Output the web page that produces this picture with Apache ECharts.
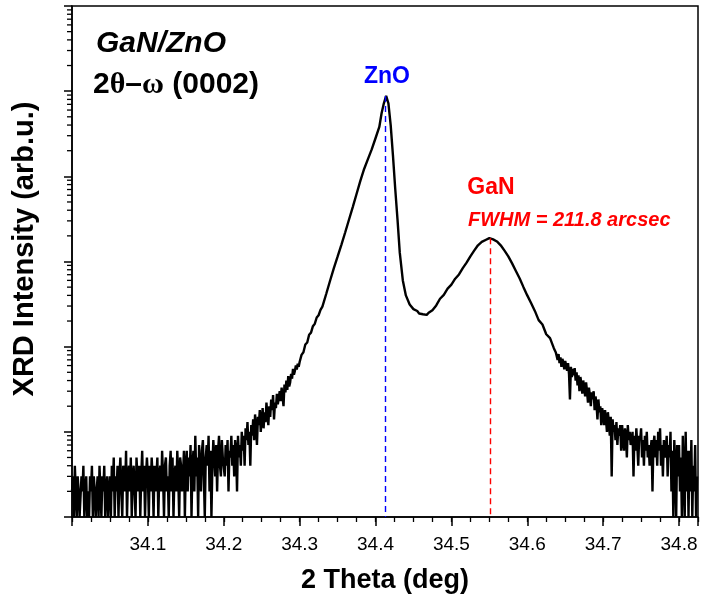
<!DOCTYPE html>
<html><head><meta charset="utf-8">
<script src="https://cdn.jsdelivr.net/npm/echarts@6/dist/echarts.min.js"></script>
<style>html,body{margin:0;padding:0;background:#fff}#c{width:702px;height:605px}</style>
</head><body><div id="c"></div>
<script>
// ---- data ----
const xTickLabels = ['34.1','34.2','34.3','34.4','34.5','34.6','34.7','34.8'];
const xMin = 34.0, xMax = 34.825;
const znoPeak = 34.413, znoPeakCounts = 88000;
const ganPeak = 34.551, ganPeakCounts = 1880;

const bgLeftAngles = [
34.00000,34.00125,34.00250,34.00375,34.00500,34.00625,34.00750,34.00875,
34.01000,34.01125,34.01250,34.01375,34.01500,34.01625,34.01750,34.01875,
34.02000,34.02125,34.02250,34.02375,34.02500,34.02625,34.02750,34.02875,
34.03000,34.03125,34.03250,34.03375,34.03500,34.03625,34.03750,34.03875,
34.04000,34.04125,34.04250,34.04375,34.04500,34.04625,34.04750,34.04875,
34.05000,34.05125,34.05250,34.05375,34.05500,34.05625,34.05750,34.05875,
34.06000,34.06125,34.06250,34.06375,34.06500,34.06625,34.06750,34.06875,
34.07000,34.07125,34.07250,34.07375,34.07500,34.07625,34.07750,34.07875,
34.08000,34.08125,34.08250,34.08375,34.08500,34.08625,34.08750,34.08875,
34.09000,34.09125,34.09250,34.09375,34.09500,34.09625,34.09750,34.09875,
34.10000,34.10125,34.10250,34.10375,34.10500,34.10625,34.10750,34.10875,
34.11000,34.11125,34.11250,34.11375,34.11500,34.11625,34.11750,34.11875,
34.12000,34.12125,34.12250,34.12375,34.12500,34.12625,34.12750,34.12875,
34.13000,34.13125,34.13250,34.13375,34.13500,34.13625,34.13750,34.13875,
34.14000,34.14125,34.14250,34.14375,34.14500,34.14625,34.14750,34.14875,
34.15000,34.15125,34.15250,34.15375,34.15500,34.15625,34.15750,34.15875,
34.16000,34.16125,34.16250,34.16375,34.16500,34.16625,34.16750,34.16875,
34.17000,34.17125,34.17250,34.17375,34.17500,34.17625,34.17750,34.17875,
34.18000,34.18125,34.18250,34.18375,34.18500,34.18625,34.18750,34.18875,
34.19000,34.19125,34.19250,34.19375,34.19500,34.19625,34.19750,34.19875];
const bgLeftCounts = [
2,3,1,4,2,1,3,2,1,1, 3,2,4,1,2,3,1,2,1,3, 2,4,1,3,2,1,2,3,1,4, 2,1,3,2,4,1,2,3,1,2,
3,1,4,2,5,1,3,2,4,1, 3,5,2,1,4,3,2,6,1,3, 4,2,5,1,3,4,2,1,5,3, 2,4,1,3,6,2,4,1,3,5,
3,1,4,2,5,3,1,4,2,3, 5,1,3,4,2,6,3,1,4,5, 2,3,1,4,6,2,5,1,3,4, 2,6,3,1,5,4,2,3,6,1,
4,6,2,5,3,7,1,4,6,2, 9,3,5,1,7,4,2,6,8,3, 1,5,7,4,9,2,6,1,4,8, 5,3,7,2,6,9,4,3,8,5];

const riseAngles = [
34.20000,34.20125,34.20250,34.20375,34.20500,34.20625,34.20750,34.20875,
34.21000,34.21125,34.21250,34.21375,34.21500,34.21625,34.21750,34.21875,
34.22000,34.22125,34.22250,34.22375,34.22500,34.22625,34.22750,34.22875,
34.23000,34.23125,34.23250,34.23375,34.23500,34.23625,34.23750,34.23875,
34.24000,34.24125,34.24250,34.24375,34.24500,34.24625,34.24750,34.24875,
34.25000,34.25125,34.25250,34.25375,34.25500,34.25625,34.25750,34.25875,
34.26000,34.26125,34.26250,34.26375,34.26500,34.26625,34.26750,34.26875,
34.27000,34.27125,34.27250,34.27375,34.27500,34.27625,34.27750,34.27875,
34.28000,34.28125,34.28250,34.28375,34.28500,34.28625,34.28750,34.28875,
34.29000,34.29125,34.29250,34.29375,34.29500,34.29625,34.29750,34.29875,
34.3000,34.3025,34.3050,34.3075,34.3100,34.3125,34.3150,34.3175,34.3200,34.3225,
34.3250,34.3275,34.3300];
const riseCounts = [
5,3,7,4,8,2,6,5,9,4, 7,3,8,6,2,9,5,7,4,10,
6,9,4,11,8,13,7,10,4,12, 9,14,8,16,11,7,15,12,18,10,
14,19,11,17,13,22,16,12,20,15, 24,18,27,14,22,19,28,21,25,30,
23,33,26,20,36,29,40,31,45,34, 38,48,42,55,47,52,60,54,63,58,
66,80,86,106,112,138,146,174,186,220, 234,270,295];

const znoAngles = [34.335,34.340,34.345,34.350,34.355,34.360,34.365,34.370,34.375,34.380,
34.385,34.390,34.395,34.400,34.405,34.408,34.411,34.414,34.417,34.420,
34.423,34.426,34.429,34.432,34.436,34.440,34.445,34.450];
const znoCounts = [415,590,830,1140,1570,2190,3090,4350,6200,8850,
12200,15900,20700,28000,38000,55000,72000,88000,72000,40000,
17500,7100,3100,1260,600,400,312,276];

const valleyAngles = [34.4550,34.4575,34.4600,34.4625,34.4650,34.4675,34.4700,34.4725,34.4750,34.4775,34.4800];
const valleyCounts = [262,245,258,240,252,236,250,242,268,280,305];

const ganAngles = [34.485,34.490,34.495,34.500,34.505,34.510,34.515,34.520,34.525,34.530,
34.535,34.540,34.545,34.550,34.555,34.560,34.565,34.570,34.575,34.580,
34.585,34.590,34.595,34.600,34.605,34.610,34.615,34.620,34.625,34.630,34.635];
const ganCounts = [365,405,480,535,628,705,835,970,1150,1340,
1550,1700,1790,1880,1820,1720,1550,1340,1150,950,
775,630,500,400,325,263,205,182,140,126,96];

const bgRightAngles = [
34.63750,34.63875,
34.64000,34.64125,34.64250,34.64375,34.64500,34.64625,34.64750,34.64875,
34.65000,34.65125,34.65250,34.65375,34.65500,34.65625,34.65750,34.65875,
34.66000,34.66125,34.66250,34.66375,34.66500,34.66625,34.66750,34.66875,
34.67000,34.67125,34.67250,34.67375,34.67500,34.67625,34.67750,34.67875,
34.68000,34.68125,34.68250,34.68375,34.68500,34.68625,34.68750,34.68875,
34.69000,34.69125,34.69250,34.69375,34.69500,34.69625,34.69750,34.69875,
34.70000,34.70125,34.70250,34.70375,34.70500,34.70625,34.70750,34.70875,
34.71000,34.71125,34.71250,34.71375,34.71500,34.71625,34.71750,34.71875,
34.72000,34.72125,34.72250,34.72375,34.72500,34.72625,34.72750,34.72875,
34.73000,34.73125,34.73250,34.73375,34.73500,34.73625,34.73750,34.73875,
34.74000,34.74125,34.74250,34.74375,34.74500,34.74625,34.74750,34.74875,
34.75000,34.75125,34.75250,34.75375,34.75500,34.75625,34.75750,34.75875,
34.76000,34.76125,34.76250,34.76375,34.76500,34.76625,34.76750,34.76875,
34.77000,34.77125,34.77250,34.77375,34.77500,34.77625,34.77750,34.77875,
34.78000,34.78125,34.78250,34.78375,34.78500,34.78625,34.78750,34.78875,
34.79000,34.79125,34.79250,34.79375,34.79500,34.79625,34.79750,34.79875,
34.80000,34.80125,34.80250,34.80375,34.80500,34.80625,34.80750,34.80875,
34.81000,34.81125,34.81250,34.81375,34.81500,34.81625,34.81750,34.81875,
34.82000,34.82125,34.82250,34.82375];
const bgRightCounts = [
86,78,70,82,64,75,58,72,66,54, 68,60,52,64,48,24,58,44,55,46,
56,40,50,35,46,30,44,38,28,40, 34,26,38,30,22,33,27,20,29,24,
30,18,26,21,14,24,17,20,12,19, 16,12,18,14,10,17,13,9,15,3,
14,10,12,8,13,7,11,9,12,6, 12,8,6,11,9,5,12,8,10,7,
7,10,3,9,6,11,7,4,9,8, 11,5,8,4,9,6,10,5,7,4,
6,8,2,7,9,5,8,4,10,6, 11,4,7,3,8,5,6,9,3,7,
5,10,2,6,1,8,4,1,7,3, 7,2,5,1,9,3,1,10,2,6,
1,6,2,8,1,4,2,7,1,3];

// ---- build ----
const angles = [].concat(bgLeftAngles, riseAngles, znoAngles, valleyAngles, ganAngles, bgRightAngles);
const counts = [].concat(bgLeftCounts, riseCounts, znoCounts, valleyCounts, ganCounts, bgRightCounts);
const lineData = angles.map((a, i) => [a, Math.max(1, counts[i])]);

const yMinorTicks = [];
for (let d = 0; d < 6; d++) for (let m = 2; m <= 9; m++) yMinorTicks.push(m * Math.pow(10, d));

const FONT = '"Liberation Sans", Arial, Helvetica, sans-serif';
const chart = echarts.init(document.getElementById('c'), null, {renderer: 'canvas'});

chart.setOption({
  animation: false,
  backgroundColor: '#fff',
  grid: {left: 72, right: 4, top: 6, bottom: 88, show: true, borderColor: '#000', borderWidth: 1.5},
  xAxis: [{
    type: 'value', min: xMin, max: xMax, interval: 0.1, position: 'bottom',
    axisLine: {show: true, onZero: false, lineStyle: {color: '#000', width: 1.5}},
    axisTick: {show: true, length: 9, lineStyle: {color: '#000', width: 1.5}},
    axisLabel: {
      color: '#000', fontSize: 19, fontFamily: FONT, margin: 18,
      formatter: v => { const s = v.toFixed(1); return (Math.abs(v * 10 - Math.round(v * 10)) < 1e-6 && xTickLabels.indexOf(s) >= 0) ? s : ''; }
    },
    splitLine: {show: false},
    name: '2 Theta (deg)', nameLocation: 'middle', nameGap: 50,
    nameTextStyle: {color: '#000', fontSize: 27, fontWeight: 'bold', fontFamily: FONT}
  }, {
    type: 'value', min: xMin, max: xMax, interval: 0.025, position: 'bottom',
    axisLine: {show: false, onZero: false},
    axisTick: {show: true, length: 5, lineStyle: {color: '#000', width: 1.3}},
    axisLabel: {show: false}, splitLine: {show: false}
  }],
  yAxis: {
    type: 'log', logBase: 10, min: 1, max: 1e6, position: 'left',
    axisLine: {show: true, onZero: false, lineStyle: {color: '#000', width: 1.5}},
    axisTick: {show: true, length: 8, lineStyle: {color: '#000', width: 1.5}},
    axisLabel: {show: false}, splitLine: {show: false}
  },
  series: [{
    type: 'line', data: lineData, showSymbol: false, symbol: 'none', clip: true,
    lineStyle: {color: '#000', width: 2.4}, z: 3,
    markLine: {
      silent: true, symbol: ['none', 'none'], label: {show: false},
      lineStyle: {type: [6, 4], width: 1.4},
      data: [
        [{coord: [znoPeak, znoPeakCounts], lineStyle: {color: '#0000ff', type: [6, 4], width: 1.4}}, {coord: [znoPeak, 1]}],
        [{coord: [ganPeak, ganPeakCounts], lineStyle: {color: '#ff0000', type: [6, 4], width: 1.4}}, {coord: [ganPeak, 1]}]
      ]
    }
  }]
});

// log minor ticks on the y axis, placed through the axis scale
function px(v) { const r = chart.convertToPixel({yAxisIndex: 0}, v); return Array.isArray(r) ? r[1] : r; }
const rawOk = isFinite(px(10)) && Math.abs((px(10) - px(100)) - (px(100) - px(1000))) < 1 && Math.abs(px(10) - px(100)) > 20;
const yPix = rawOk ? v => px(v) : v => px(Math.log10(v));
const axisXr = chart.convertToPixel({xAxisIndex: 0}, xMin);
const axisX = Array.isArray(axisXr) ? axisXr[0] : axisXr;
const minorTickEls = yMinorTicks.map((v, i) => {
  const py = yPix(v);
  return {type: 'line', id: 'ymt' + i, silent: true, z: 100,
    shape: {x1: axisX - 5, y1: py, x2: axisX, y2: py}, style: {stroke: '#000', lineWidth: 1.3}};
});

chart.setOption({
  graphic: [
    {type: 'text', id: 'ytitle', x: 25, y: 249, rotation: Math.PI / 2, style: {text: 'XRD Intensity (arb.u.)', font: 'bold 29px ' + FONT, fill: '#000', align: 'center', verticalAlign: 'middle'}},
    {type: 'text', id: 't1', left: 96, top: 29, style: {text: 'GaN/ZnO', font: 'italic bold 30px ' + FONT, fill: '#000'}},
    {type: 'text', id: 't2', left: 93, top: 70, style: {
      text: '{a|2}{g|θ}{a|–}{g|ω}{a| (0002)}', fill: '#000',
      rich: {a: {font: 'bold 30px ' + FONT, fill: '#000'}, g: {font: 'bold 30px "Liberation Serif", "DejaVu Serif", serif', fill: '#000'}}
    }},
    {type: 'text', id: 'zno', x: 387, y: 77, style: {text: 'ZnO', font: 'bold 23px ' + FONT, fill: '#0000ff', align: 'center', verticalAlign: 'middle'}},
    {type: 'text', id: 'gan', x: 491, y: 188, style: {text: 'GaN', font: 'bold 23px ' + FONT, fill: '#ff0000', align: 'center', verticalAlign: 'middle'}},
    {type: 'text', id: 'fwhm', x: 468, y: 220, style: {text: 'FWHM = 211.8 arcsec', font: 'italic bold 20px ' + FONT, fill: '#ff0000', align: 'left', verticalAlign: 'middle'}}
  ].concat(minorTickEls)
});
</script></body></html>
